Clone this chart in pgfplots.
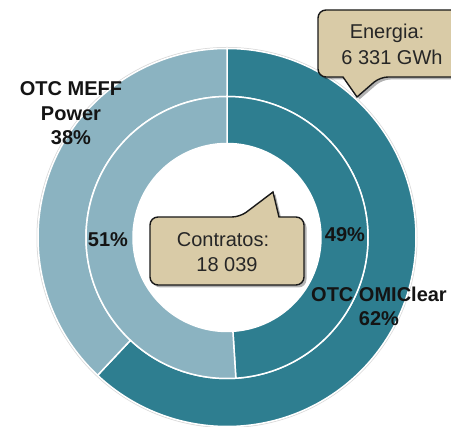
\documentclass[border=0pt]{standalone}
\usepackage{pgfplots}
\pgfplotsset{compat=1.18}
\usepackage{pgfplotstable}
\usepackage{fontspec}
\setmainfont{Liberation Sans}
\usetikzlibrary{calc}

\definecolor{tealdark}{HTML}{2E7E90}
\definecolor{teallight}{HTML}{8BB3C1}
\definecolor{calloutfill}{HTML}{D9CBA7}

% share of each market, outer ring = energy, inner ring = contracts
\pgfplotstableread{
part value
OMIClear 62
MEFF 38
}\outerring
\pgfplotstableread{
part value
OMIClear 49
MEFF 51
}\innerring

\pgfplotstablegetelem{0}{value}\of\outerring \edef\outA{\pgfplotsretval}
\pgfplotstablegetelem{1}{value}\of\outerring \edef\outB{\pgfplotsretval}
\pgfplotstablegetelem{0}{value}\of\innerring \edef\inA{\pgfplotsretval}
\pgfplotstablegetelem{1}{value}\of\innerring \edef\inB{\pgfplotsretval}
\pgfmathsetmacro\outEnd{90-3.6*\outA}
\pgfmathsetmacro\inEnd{90-3.6*\inA}

% colour, start angle, end angle, inner radius, outer radius
\newcommand\ringsector[5]{%
  \fill[#1, draw=white, line width=1.5pt]
    ($(c)+(#2:#5)$) arc[start angle=#2, end angle=#3, radius=#5]
    -- ($(c)+(#3:#4)$) arc[start angle=#3, end angle=#2, radius=#4] -- cycle;}

\newcommand\energiapath{(axis cs:318,383) -- (axis cs:318,417) -- (axis cs:468,417)
  -- (axis cs:468,350) -- (axis cs:380,350) [sharp corners] -- (axis cs:357,330)
  -- (axis cs:343,350) [rounded corners=8pt] -- (axis cs:318,350) -- cycle}
\newcommand\contratospath{(axis cs:150,176) -- (axis cs:150,210) -- (axis cs:240,210)
  [sharp corners] -- (axis cs:273,235) -- (axis cs:279,210) [rounded corners=8pt]
  -- (axis cs:304,210) -- (axis cs:304,142) -- (axis cs:150,142) -- cycle}

\begin{document}
\begin{tikzpicture}
\begin{axis}[
    hide axis,
    scale only axis,
    width=451pt, height=427pt,
    xmin=0, xmax=451,
    ymin=0, ymax=427,
    clip=false,
]
\coordinate (c) at (axis cs:227,189.5);
\draw[black!15, line width=1pt] (c) circle[radius=190pt];
% outer ring
\ringsector{tealdark}{90}{\outEnd}{141pt}{189pt}
\ringsector{teallight}{\outEnd}{-270}{141pt}{189pt}
% inner ring
\ringsector{tealdark}{90}{\inEnd}{94pt}{141pt}
\ringsector{teallight}{\inEnd}{-270}{94pt}{141pt}

\begin{scope}[every node/.style={font=\fontsize{20}{24}\selectfont\bfseries, text=black!92, anchor=base, inner sep=0pt}]
\node at (axis cs:71,331) {OTC MEFF};
\node at (axis cs:71,306) {Power};
\node at (axis cs:71,282) {\outB\%};
\node at (axis cs:108,180) {\inB\%};
\node at (axis cs:345,185) {\inA\%};
\node at (axis cs:379,125) {OTC OMIClear};
\node at (axis cs:379,101) {\outA\%};
\end{scope}

% callouts
\begin{scope}[xshift=2.5pt, yshift=-2.5pt]
\fill[black, opacity=0.3, rounded corners=8pt] \energiapath;
\fill[black, opacity=0.3, rounded corners=8pt] \contratospath;
\end{scope}
\filldraw[fill=calloutfill, draw=black!90, line width=1.4pt, rounded corners=8pt] \energiapath;
\filldraw[fill=calloutfill, draw=black!90, line width=1.4pt, rounded corners=8pt] \contratospath;

\begin{scope}[every node/.style={font=\fontsize{20}{24}\selectfont, text=black!85, anchor=base, inner sep=0pt}]
\node at (axis cs:387,388) {Energia:};
\node at (axis cs:392,362) {6 331 GWh};
\node at (axis cs:223,180) {Contratos:};
\node at (axis cs:227,155) {18 039};
\end{scope}
\end{axis}
\pgfresetboundingbox
\path[use as bounding box] (current axis.south west) rectangle (current axis.north east);
\end{tikzpicture}
\end{document}
